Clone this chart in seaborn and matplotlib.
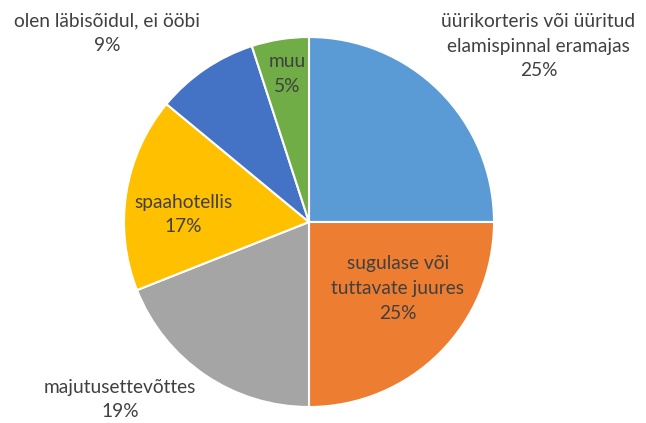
import matplotlib
matplotlib.use("Agg")
import matplotlib.pyplot as plt
import seaborn as sns

sns.set_theme(style="white")
plt.rcParams['font.family'] = ['Lato', 'DejaVu Sans']

categories = ["üürikorteris või üüritud\nelamispinnal eramajas",
              "sugulase või\ntuttavate juures",
              "majutusettevõttes",
              "spaahotellis",
              "olen läbisõidul, ei ööbi",
              "muu"]
shares = [25, 25, 19, 17, 9, 5]
colors = ["#5B9BD5", "#ED7D31", "#A5A5A5", "#FFC000", "#4472C4", "#70AD47"]

# label centres, in pie-radius units
label_pos = [(1.24, 0.95), (0.48, -0.36), (-1.02, -0.96),
             (-0.68, 0.04), (-1.09, 1.02), (-0.12, 0.80)]

fig = plt.figure(figsize=(6.46, 4.23), dpi=100)
ax = fig.add_axes([0, 0, 1, 1])
ax.pie(shares, colors=colors, startangle=90, counterclock=False,
       radius=1, wedgeprops=dict(edgecolor="white", linewidth=1.5))

for name, val, (x, y) in zip(categories, shares, label_pos):
    ax.text(x, y, f"{name}\n{val}%", ha="center", va="center",
            fontsize=13.8, color="#404040", linespacing=1.55)

ax.set_xlim(-309 / 185, 337 / 185)
ax.set_ylim(-201 / 185, 222 / 185)
ax.set_aspect("auto")
ax.axis("off")

plt.savefig("out.png", dpi=100)
